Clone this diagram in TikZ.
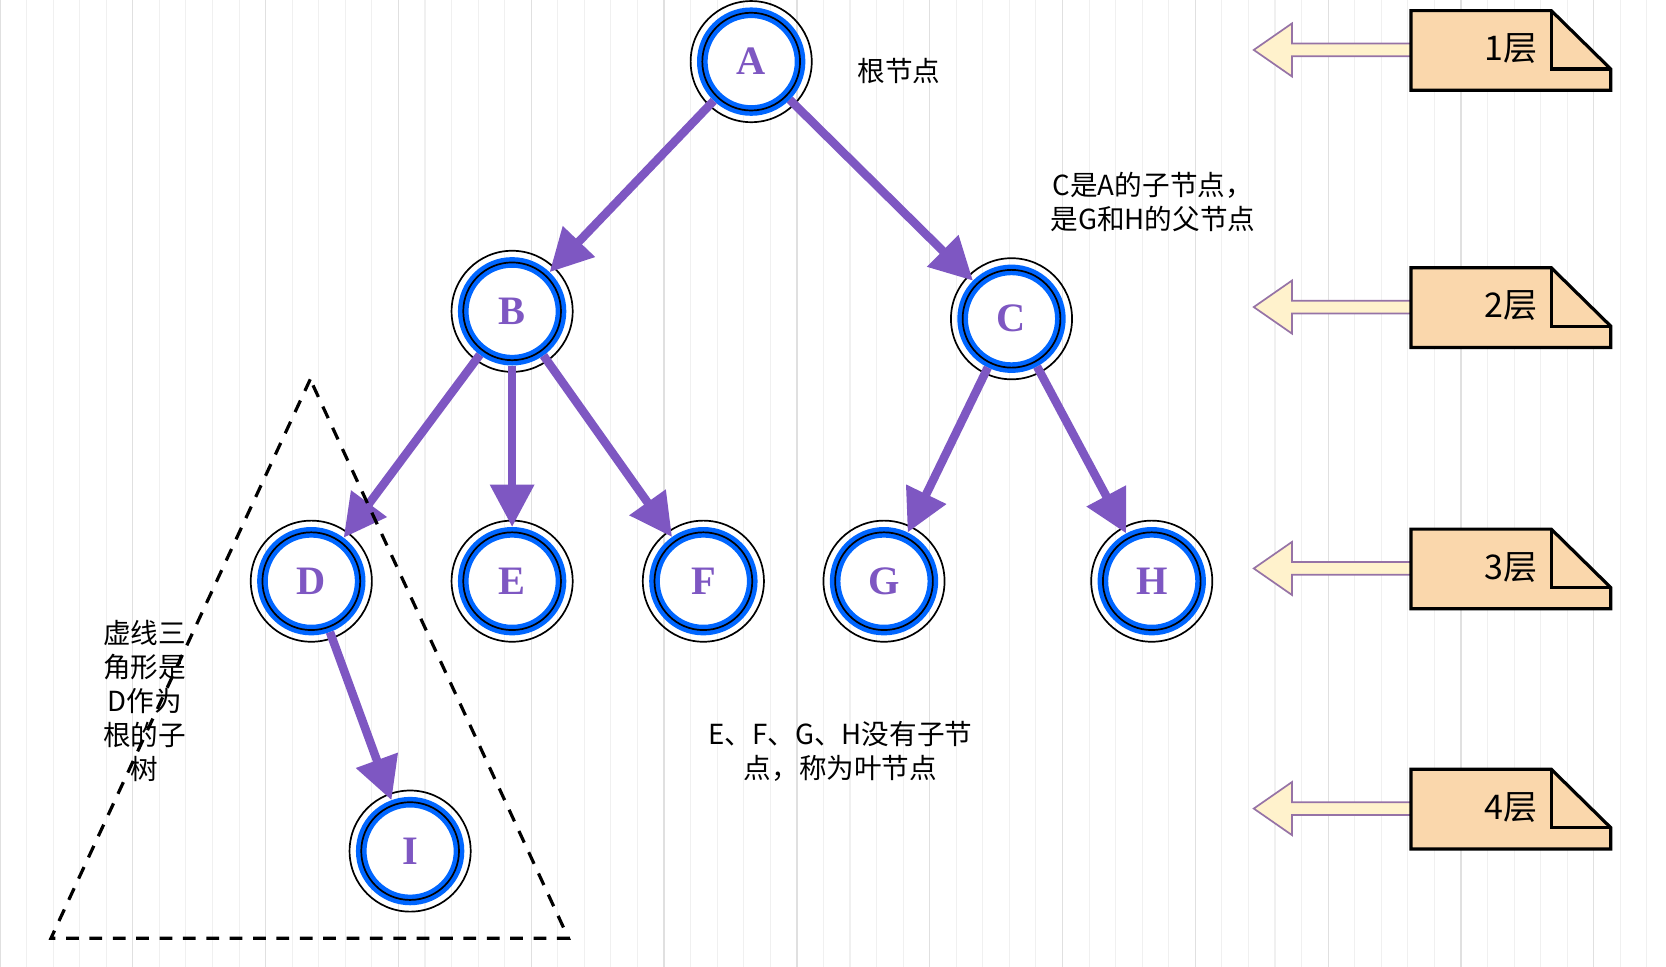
\documentclass[tikz,border=0pt]{standalone}
\usepackage{fontspec}
\setmainfont{Liberation Serif}
\newfontfamily\cjk{Noto Sans CJK SC}
\usetikzlibrary{arrows.meta}
\definecolor{ring}{RGB}{0,102,255}
\definecolor{edgec}{RGB}{126,87,194}
\definecolor{notef}{RGB}{250,215,172}
\definecolor{arrf}{RGB}{255,242,204}
\definecolor{arrs}{RGB}{150,115,166}
\begin{document}
\begin{tikzpicture}[x=0.5pt,y=-0.5pt,
  tn/.style={circle,minimum size=46pt,inner sep=0pt,draw=ring,line width=5pt,fill=white,
    font=\fontsize{19}{19}\selectfont\bfseries,text=edgec,
    append after command={\pgfextra{}}},
  ed/.style={draw=edgec,line width=4pt,-{Triangle[length=20pt,width=20pt]}},
  lbl/.style={font=\cjk\fontsize{13}{16}\selectfont,align=center,inner sep=0pt},
  note/.style={fill=notef,draw=black,line width=1.5pt},
  barr/.style={fill=arrf,draw=arrs,line width=0.8pt}]
\useasboundingbox (0,0) rectangle (1568,910);
\draw[black!6,line width=0.5pt] (0,0) grid[step=25] (1568,910);
\draw[black!12,line width=0.6pt] (0,0) grid[step=125] (1568,910);
% nodes
\foreach \n/\x/\y in {A/707/58,B/482/293,C/952/300,D/293/547,E/482/547,F/662/547,G/832/547,H/1084/547,I/386/801}{
  \node[tn] (\n) at (\x,\y) {\n};
  \draw[black,line width=0.8pt] (\x,\y) circle[radius=57];
  \draw[black,line width=0.8pt] (\x,\y) circle[radius=46];
}
% edges
\draw[ed] (A) -- (B);
\draw[ed] (A) -- (C);
\draw[ed] (B) -- (D);
\draw[ed] (B) -- (E);
\draw[ed] (B) -- (F);
\draw[ed] (C) -- (G);
\draw[ed] (C) -- (H);
\draw[ed] (D) -- (I);
% dashed triangle
\coordinate (t1) at (292,357); \coordinate (t2) at (48,883); \coordinate (t3) at (535,883);
\draw[dashed,line width=1.5pt,dash pattern=on 6pt off 5pt] (t1) -- (t2) -- (t3) -- cycle;
% labels
\node[lbl] (l1) at (846,67) {根节点};
\node[lbl] (l2) at (1085,190) {C是A的子节点，\\是G和H的父节点};
\node[lbl] (l3) at (791,707) {E、F、G、H没有子节\\点，称为叶节点};
\node[lbl] (l4) at (136,660) {虚线三\\角形是\\D作为\\根的子\\树};
% layers
\foreach \t/\y in {1/10,2/252,3/498,4/724}{
  \pgfmathsetmacro{\m}{\y+37}
  \draw[barr] (1180,\m) -- (1216,\m-25) -- (1216,\m-6) -- (1346,\m-6) -- (1346,\m+6) -- (1216,\m+6) -- (1216,\m+25) -- cycle;
  \draw[note] (1328,\y) -- (1460,\y) -- (1516,\y+55) -- (1516,\y+75) -- (1328,\y+75) -- cycle;
  \draw[black,line width=1.5pt] (1460,\y) -- (1460,\y+55) -- (1516,\y+55);
  \node[font=\cjk\fontsize{16}{16}\selectfont] (n\t) at (1422,\y+36) {\t 层};
}
\end{tikzpicture}
\end{document}
